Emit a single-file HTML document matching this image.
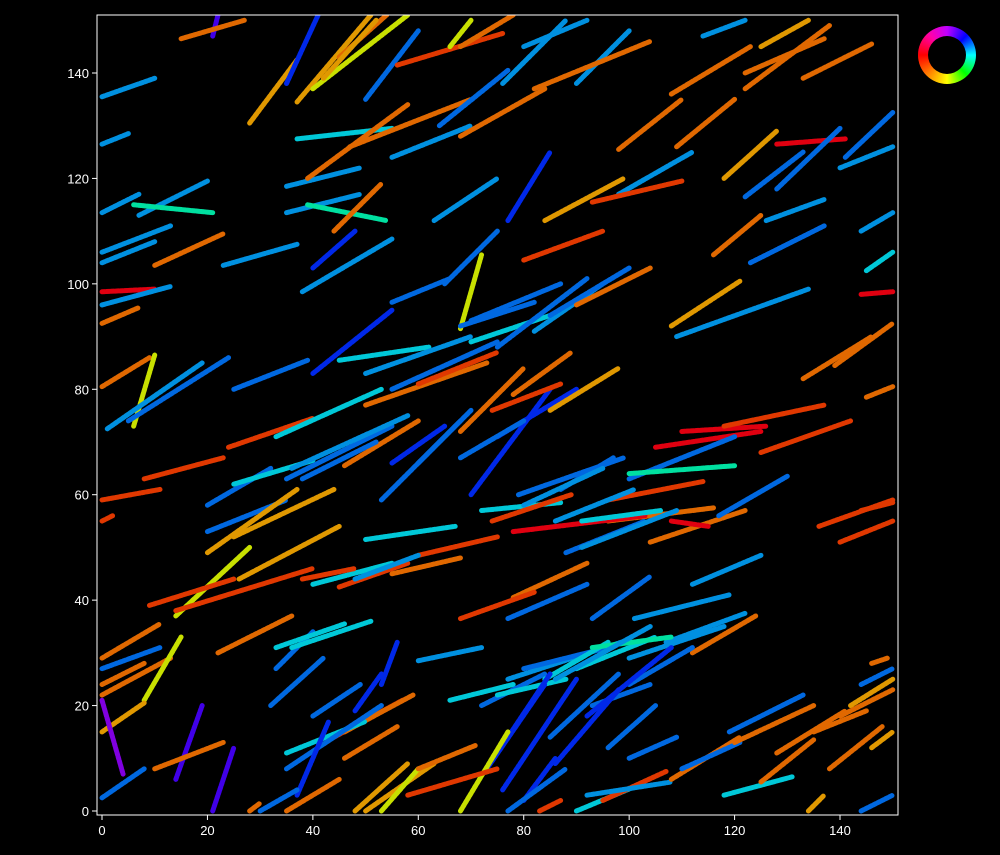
<!DOCTYPE html>
<html><head><meta charset="utf-8">
<style>
body{margin:0;background:#000;width:1000px;height:855px;overflow:hidden;font-family:"Liberation Sans",sans-serif}
#ring{position:absolute;left:918px;top:26px;width:58px;height:58px;border-radius:50%;
background:conic-gradient(from 0deg,hsl(285,100%,50%),hsl(240,100%,50%) 45deg,hsl(180,100%,50%) 90deg,hsl(120,100%,50%) 135deg,hsl(60,100%,50%) 180deg,hsl(30,100%,50%) 225deg,hsl(0,100%,50%) 270deg,hsl(320,100%,50%) 320deg,hsl(285,100%,50%) 360deg);}
#ring:after{content:"";position:absolute;left:10px;top:10px;width:38px;height:38px;border-radius:50%;background:#000}
</style></head><body>
<svg id="chart" width="1000" height="855" style="position:absolute;left:0;top:0"></svg>
<div id="ring"></div>
<script>
const xTicks=[0,20,40,60,80,100,120,140];
const yTicks=[0,20,40,60,80,100,120,140];
const colorKeys={c1:"#0090e0",b:"#0068e0",bd:"#0028e8",cy:"#00c8d8",g:"#00e0a0",o:"#e06800",ro:"#e03800",r:"#e00010",oy:"#e09800",y:"#c8e000",p:"#8000e0",v:"#4000e8"};
const starts=[[0,135.5],[0,126.5],[0,113.5],[7,113],[6,115],[0,106],[0,104],[0,98.5],[0,96],[0,92.5],[10,103.5],[23,103.5],[0,80.5],[6,73],[1,72.5],[5,74],[25,80],[8,63],[0,59],[0,55],[20,58],[20,53],[25,62],[24,69],[20,49],[25,52],[26,44],[14,37],[9,39],[14,38],[0,29],[0,27],[0,24],[0,22],[8,21],[0,15],[0,2.5],[0,21],[14,6],[21,0],[10,8],[21,147],[15,146.5],[28,130.5],[35,138],[37,134.5],[40,137],[45,143],[50,135],[42,139],[56,141.5],[68,145],[66,145],[35,118.5],[35,113.5],[39,115],[37,127.5],[39,120],[44,110],[38,98.5],[40,103],[40,83],[55,124],[47,126],[63,112],[64,130],[68,128],[76,138],[80,145],[77,112],[80,104.5],[84,112],[90,138],[82,137],[98,117],[93,115.5],[98,125.5],[108,136],[109,126],[114,147],[118,120],[116,105.5],[122,116.5],[122,137],[125,145],[122,140],[128,126.5],[128,118],[133,139],[141,124],[140,122],[144,110],[145,102.5],[144,98],[123,104],[126,112],[109,90],[108,92],[133,82],[139,84.5],[145,78.5],[55,96.5],[65,100],[68,91.5],[68,92],[70,89],[45,85.5],[50,83],[55,80],[50,77],[60,81],[70,93],[75,88],[82,91],[85,94],[90,96],[78,79],[75,71],[70,60],[85,76],[74,76],[46,65.5],[33,71],[35,63],[36,65],[38,63],[55,66],[53,59],[60,66],[68,67],[68,72],[105,69],[110,72],[118,73],[125,68],[100,63],[100,64],[96,59],[96,55],[86,55],[87,61],[79,60],[72,57],[74,55],[78,53],[91,55],[80,58],[104,51],[108,55],[117,56],[136,54],[140,51],[144,57],[88,49],[91,50],[78,40.5],[68,36.5],[77,36.5],[93,36.5],[101,36.5],[112,43],[112,30],[107,32],[100,29],[77,25],[60,28.5],[66,21],[72,20],[75,22],[80,27],[84,25],[90,27],[93,31],[86,25],[93,20],[100,24],[96,12],[92,18],[86,9],[76,4],[73,8],[75,11],[80,2],[85,14],[77,0],[100,10],[90,0],[95,2],[92,3],[108,6],[110,8],[119,15],[120,13],[118,3],[125,5.5],[128,11],[134,0],[135,15],[138,8],[140,18],[142,20],[146,12],[144,24],[146,28],[144,0],[68,0],[48,0],[50,0],[53,0],[58,3],[60,8],[46,10],[44,14],[46,15],[35,11],[35,8],[37,3],[40,18],[48,19],[53,24],[32,20],[33,27],[36,31],[33,31],[22,30],[40,43],[38,44],[45,42.5],[55,45],[60,48.5],[50,51.5],[48,44],[30,0],[28,0],[35,0],[83,0]];
const ends=[[10,139],[5,128.5],[7,117],[20,119.5],[21,113.5],[13,111],[10,108],[10,99],[13,99.5],[7,95.5],[23,109.5],[37,107.5],[9,86],[10,86.5],[19,85],[24,86],[39,85.5],[23,67],[11,61],[2,56],[32,65],[35,59],[40,66.5],[40,74.5],[37,61],[44,61],[45,54],[28,50],[25,44],[40,46],[11,35.5],[11,31],[8,28],[13,29],[15,33],[8,20.5],[8,8],[4,7],[19,20],[25,12],[23,13],[22,151],[27,150],[37,142.5],[41,151],[51,151],[58,151],[54,151],[60,148],[52,150],[76,147.5],[78,151],[70,150],[49,122],[49,117],[54,112],[55,129.5],[58,134],[53,119],[55,108.5],[48,110],[55,95],[70,130],[70,135],[75,120],[77,140.5],[84,137],[88,150],[92,150],[85,125],[95,110],[99,120],[100,148],[104,146],[112,125],[110,119.5],[110,135],[123,145],[120,135],[122,150],[128,129],[125,113],[133,125],[138,149],[134,150],[137,146.5],[141,127.5],[140,129.5],[146,145.5],[150,132.5],[150,126],[150,113.5],[150,106],[150,98.5],[137,111],[137,116],[134,99],[121,100.5],[146,90],[150,92.5],[150,80.5],[66,101],[75,110],[72,105.5],[82,96.5],[85,94],[62,88],[70,90],[75,89],[73,85],[75,87],[87,100],[92,101],[95,100],[100,103],[104,103],[89,87],[90,80],[85,80],[98,84],[87,81],[60,74],[53,80],[55,73],[58,75],[52,70],[65,73],[68,74],[70,76],[80,74],[80,84],[125,72],[126,73],[137,77],[142,74],[120,71],[120,65.5],[114,62.5],[116,57.5],[101,61],[97,67],[99,67],[87,58.5],[89,60],[103,56],[106,57],[95,65],[122,57],[115,54],[130,63.5],[150,59],[150,55],[150,58.5],[103,55],[109,57],[92,47],[82,41.5],[92,43],[104,44.5],[119,41],[125,48.5],[124,37],[122,37.5],[118,35],[100,32.5],[72,31],[78,24],[84,26],[88,25],[96,31],[96,32],[105,33],[108,33],[104,35],[104,24],[112,31],[105,20],[108,31],[98,23],[90,25],[84,24],[85,26],[86,10],[98,26],[88,8],[109,14],[102,5],[107,7.5],[108,5.5],[121,14],[121,13],[133,22],[135,20],[131,6.5],[135,13.5],[141,19],[137,3],[145,19],[148,16],[150,23],[150,25],[150,15],[150,27],[149,29],[150,3],[77,15],[58,9],[63,9],[60,8],[75,8],[71,12.5],[56,16],[57,21],[59,22],[50,17],[53,20],[43,17],[49,24],[53,26],[56,32],[42,29],[40,34],[51,36],[46,35.5],[36,37],[55,47],[48,46],[58,47],[68,48],[75,52],[67,54],[60,48.5],[37,4],[30,1.5],[45,6],[87,2]];
const colors=["c1","c1","c1","c1","g","c1","c1","r","c1","o","o","c1","o","y","c1","b","b","ro","ro","ro","b","b","cy","ro","oy","oy","oy","y","ro","ro","o","b","o","o","y","oy","b","p","v","v","o","v","o","oy","bd","oy","y","o","b","oy","ro","o","y","c1","c1","g","cy","o","o","c1","bd","bd","c1","o","c1","b","o","c1","c1","bd","ro","oy","c1","o","c1","ro","o","o","o","c1","oy","o","b","o","oy","o","r","b","o","b","c1","c1","cy","r","b","c1","c1","oy","o","o","o","b","b","y","b","cy","cy","c1","b","o","ro","b","b","c1","b","o","o","bd","bd","oy","ro","o","cy","b","c1","b","bd","b","b","b","o","r","r","ro","ro","b","g","ro","o","c1","b","b","cy","ro","r","cy","c1","o","r","b","ro","ro","ro","b","c1","o","ro","b","b","c1","c1","o","c1","c1","c1","c1","cy","b","cy","b","cy","cy","g","c1","b","b","b","bd","bd","bd","bd","bd","bd","b","b","b","cy","ro","c1","o","b","b","o","cy","o","o","oy","o","o","o","oy","oy","b","o","b","y","oy","oy","y","ro","o","o","ro","o","cy","b","bd","b","bd","bd","b","b","cy","cy","o","cy","ro","ro","o","ro","cy","c1","b","o","o","ro"];
const NS="http://www.w3.org/2000/svg";
const svg=document.getElementById('chart');
const L=97,R=898,T=15,B=815,x0=-0.95,x1=151.0,y0=-0.76,y1=151.0;
function sx(v){return L+(v-x0)/(x1-x0)*(R-L);}
function sy(v){return B-(v-y0)/(y1-y0)*(B-T);}
function mk(t,a){const e=document.createElementNS(NS,t);for(const k in a)e.setAttribute(k,a[k]);svg.appendChild(e);return e;}
const clip=mk('clipPath',{id:'cp'});
const cr=document.createElementNS(NS,'rect');cr.setAttribute('x',L);cr.setAttribute('y',T);cr.setAttribute('width',R-L);cr.setAttribute('height',B-T);clip.appendChild(cr);
const g=mk('g',{'clip-path':'url(#cp)'});


for(let i=0;i<starts.length;i++){
  const c=colorKeys[colors[i]]||"#0090e0";
  const a=document.createElementNS(NS,'line');
  a.setAttribute('x1',sx(starts[i][0]));a.setAttribute('y1',sy(starts[i][1]));
  a.setAttribute('x2',sx(ends[i][0]));a.setAttribute('y2',sy(ends[i][1]));
  a.setAttribute('stroke',c);a.setAttribute('stroke-width','5');a.setAttribute('stroke-linecap','round');
  a.setAttribute('stroke-dasharray','3 1.5');
  
  
  g.appendChild(a);
}
const frame=mk('rect',{x:L,y:T,width:R-L,height:B-T,fill:'none',stroke:'#fff','stroke-width':1});


xTicks.forEach(v=>{
  const X=sx(v);
  const t=mk('line',{x1:X,x2:X,y1:B,y2:B+5,stroke:'#fff'});
  
  
  const l=mk('text',{x:X,y:B+20,fill:'#fff','font-size':13,'text-anchor':'middle','font-family':'Liberation Sans, sans-serif'});
  l.textContent=v;
  
  
});
yTicks.forEach(v=>{
  const Y=sy(v);
  const t=mk('line',{x1:L-5,x2:L,y1:Y,y2:Y,stroke:'#fff'});
  
  
  const l=mk('text',{x:L-8,y:Y+5,fill:'#fff','font-size':13,'text-anchor':'end','font-family':'Liberation Sans, sans-serif'});
  l.textContent=v;
  
  
});
</script>
</body></html>
